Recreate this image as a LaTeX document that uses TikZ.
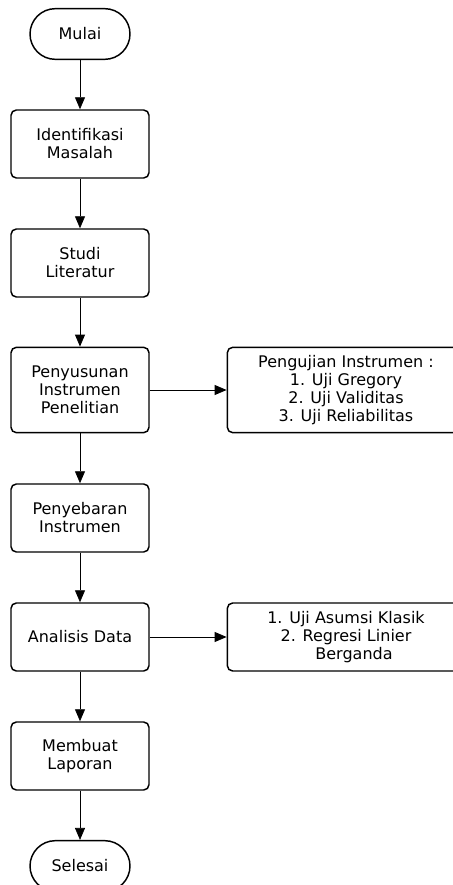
\documentclass[tikz,border=0pt]{standalone}
\usepackage{fontspec}
\setmainfont{DejaVu Sans}
\usetikzlibrary{shapes,arrows.meta,positioning}
\tikzset{
  proses/.style={draw, line width=1.1pt, rounded corners=4pt, align=center,
    minimum width=103.5pt, minimum height=51pt, inner sep=2pt},
  terminal/.style={draw, line width=1.1pt, rounded corners=19pt, align=center,
    minimum width=75pt, minimum height=38pt},
  catatan/.style={proses, minimum width=178pt},
  panah/.style={line width=0.6pt, -{Triangle[length=9pt,width=7.5pt]}}
}

\begin{document}
\begin{tikzpicture}[x=0.75pt, y=-0.75pt, font=\fontsize{12}{13.5}\selectfont]
  % Frame
  \useasboundingbox (0,0) rectangle (453,885);
  \clip (0,0) rectangle (453,885);
  % Main flow
  \node[terminal] (mulai) at (80,34) {Mulai};
  \node[proses] (identifikasi) at (80,144) {Identifikasi\\Masalah};
  \node[proses] (studi) at (80,263) {Studi\\Literatur};
  \node[proses, minimum height=64pt] (susun) at (80,390)
    {Penyusunan\\Instrumen\\Penelitian};
  \node[proses] (sebar) at (80,518) {Penyebaran\\Instrumen};
  \node[proses] (analisis) at (80,637) {Analisis Data};
  \node[proses] (laporan) at (80,756) {Membuat\\Laporan};
  \node[terminal] (selesai) at (80,866) {Selesai};
  % Side notes
  \node[catatan, minimum height=64pt] (uji) at (346,390)
    {Pengujian Instrumen :\\1. Uji Gregory\\2. Uji Validitas\\3. Uji Reliabilitas};
  \node[catatan] (asumsi) at (346,637)
    {1. Uji Asumsi Klasik\\2. Regresi Linier\\\hspace*{12pt}Berganda};
  % Connectors
  \draw[panah] (mulai) -- (identifikasi);
  \draw[panah] (identifikasi) -- (studi);
  \draw[panah] (studi) -- (susun);
  \draw[panah] (susun) -- (sebar);
  \draw[panah] (sebar) -- (analisis);
  \draw[panah] (analisis) -- (laporan);
  \draw[panah] (laporan) -- (selesai);
  \draw[panah] (susun) -- (uji);
  \draw[panah] (analisis) -- (asumsi);
\end{tikzpicture}
\end{document}
